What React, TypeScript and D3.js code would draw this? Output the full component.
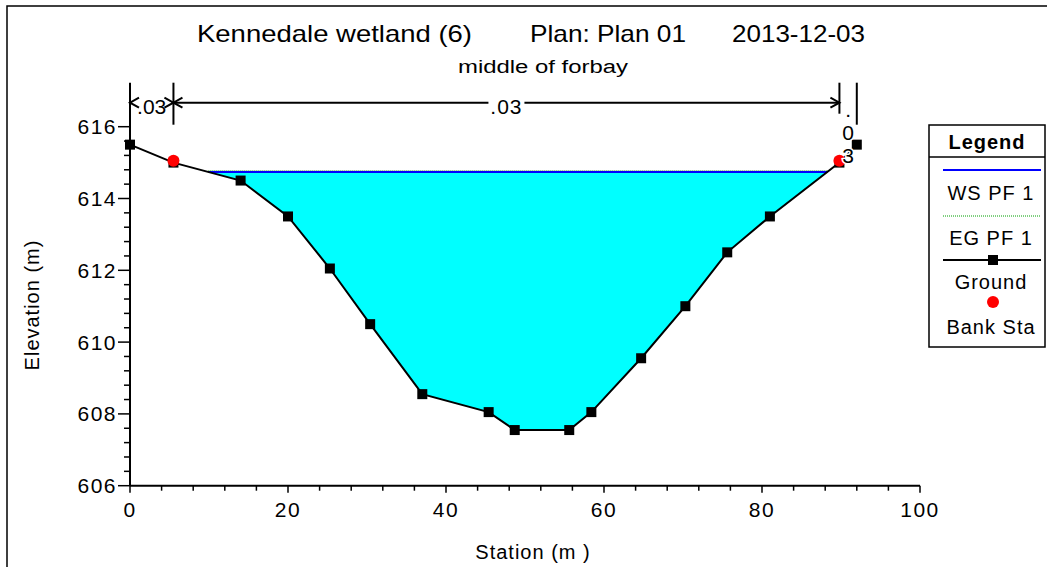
import React from "react";
import * as d3 from "d3";

// cross section data
const stations = [0, 5.5, 14, 20, 25.3, 30.4, 37, 45.4, 48.7, 55.6, 58.4, 64.7, 70.3, 75.6, 81, 89.8, 92];
const elevations = [615.5, 615.0, 614.5, 613.5, 612.05, 610.5, 608.55, 608.05, 607.55, 607.55, 608.05, 609.55, 611.0, 612.5, 613.5, 615.0, 615.5];
const bankStations = [5.5, 89.8];
const bankElevations = [615.05, 615.05];
const wsElevation = 614.74;
const egElevation = 614.77;
const nBreaks = [0, 5.5, 89.8, 92];
const nValues = [".03", ".03", ".03"];
const xTicks = [0, 20, 40, 60, 80, 100];
const yTicks = [606, 608, 610, 612, 614, 616];
const legendItems = ["WS PF 1", "EG PF 1", "Ground", "Bank Sta"];

const font = "'Liberation Sans', Arial, sans-serif";

export default function App() {
  const x = d3.scaleLinear().domain([0, 100]).range([130, 920]);
  const y = d3.scaleLinear().domain([606, 616]).range([485.7, 126.7]);

  const ground = stations.map((s, i) => [s, elevations[i]] as [number, number]);
  const line = d3.line<[number, number]>().x(d => x(d[0])).y(d => y(d[1]));

  // where the water surface meets the ground on each side
  const cross = (a: [number, number], b: [number, number]) => {
    const t = (wsElevation - a[1]) / (b[1] - a[1]);
    return [a[0] + t * (b[0] - a[0]), wsElevation] as [number, number];
  };
  let li = ground.findIndex(d => d[1] < wsElevation);
  let ri = ground.length - 1 - [...ground].reverse().findIndex(d => d[1] < wsElevation);
  const leftPt = cross(ground[li - 1], ground[li]);
  const rightPt = cross(ground[ri], ground[ri + 1]);
  const water = [leftPt, ...ground.slice(li, ri + 1), rightPt];

  const xMinor = d3.range(0, 100.01, 4);
  const yMinor = d3.range(606, 616.01, 0.4);

  const nTop = y(616) - 44;
  const arrowY = y(616) - 24;

  const arrowHead = (px: number, dir: number) =>
    `M${px + dir * 9},${arrowY - 5} L${px},${arrowY} L${px + dir * 9},${arrowY + 5}`;

  return (
    <svg width={1047} height={567} style={{ position: "absolute", left: 0, top: 0 }} fontFamily={font}>
      <rect x={0} y={0} width={1047} height={567} fill="white" />
      <rect x={7} y={6} width={1100} height={600} fill="none" stroke="black" strokeWidth={1.5} />

      {/* titles */}
      <text x={197} y={42} fontSize={24} textLength={275} lengthAdjust="spacingAndGlyphs">Kennedale wetland (6)</text>
      <text x={530} y={42} fontSize={24} textLength={156} lengthAdjust="spacingAndGlyphs">Plan: Plan 01</text>
      <text x={732} y={42} fontSize={24} textLength={133} lengthAdjust="spacingAndGlyphs">2013-12-03</text>
      <text x={458} y={73} fontSize={18} textLength={170} lengthAdjust="spacingAndGlyphs">middle of forbay</text>

      {/* water */}
      <path d={line(water)! + "Z"} fill="#00FFFF" />
      <line x1={x(leftPt[0])} x2={x(rightPt[0])} y1={y(egElevation)} y2={y(egElevation)} stroke="#00A000" strokeWidth={1} strokeDasharray="1,1" />
      <line x1={x(leftPt[0])} x2={x(rightPt[0])} y1={y(wsElevation)} y2={y(wsElevation)} stroke="#0000FF" strokeWidth={2} />

      {/* ground */}
      <path d={line(ground)!} fill="none" stroke="black" strokeWidth={2} />
      {ground.map((d, i) => (
        <rect key={i} x={x(d[0]) - 5} y={y(d[1]) - 5} width={10} height={10} fill="black" />
      ))}
      {bankStations.map((s, i) => (
        <circle key={i} cx={x(s)} cy={y(bankElevations[i])} r={6} fill="#FF0000" />
      ))}

      {/* axes */}
      <line x1={x(0)} x2={x(100)} y1={y(606)} y2={y(606)} stroke="black" strokeWidth={2} />
      <line x1={x(0)} x2={x(0)} y1={y(606)} y2={nTop} stroke="black" strokeWidth={2} />
      {xMinor.map(t => (
        <line key={t} x1={x(t)} x2={x(t)} y1={y(606)} y2={y(606) + (t % 20 === 0 ? 7 : 5)} stroke="black" strokeWidth={1.5} />
      ))}
      {yMinor.map(t => (
        <line key={t} x1={x(0) - (Math.abs(t - Math.round(t)) < 0.01 && Math.round(t) % 2 === 0 ? 12 : 6)} x2={x(0)} y1={y(t)} y2={y(t)} stroke="black" strokeWidth={1.5} />
      ))}
      {xTicks.map(t => (
        <text key={t} x={x(t)} y={y(606) + 31} fontSize={21} textAnchor="middle" letterSpacing={1.5}>{t}</text>
      ))}
      {yTicks.map(t => (
        <text key={t} x={x(0) - 13} y={y(t) + 7.5} fontSize={21} textAnchor="end" letterSpacing={1.5}>{t}</text>
      ))}
      <text x={533} y={559} fontSize={20} textAnchor="middle" letterSpacing={1}>Station (m )</text>
      <text transform={`translate(39,305) rotate(-90)`} fontSize={20} textAnchor="middle" letterSpacing={1}>Elevation (m)</text>

      {/* n value markers */}
      {nBreaks.slice(1).map((s, i) => (
        <line key={i} x1={x(s)} x2={x(s)} y1={nTop} y2={i === 1 ? y(616) - 13 : y(616) - 2} stroke="black" strokeWidth={2} />
      ))}
      {nValues.slice(0, 2).map((v, i) => {
        const a = x(nBreaks[i]);
        const b = x(nBreaks[i + 1]);
        const m = (a + b) / 2;
        const narrow = b - a < 60;
        return (
          <g key={i}>
            {!narrow && <line x1={a} x2={b} y1={arrowY} y2={arrowY} stroke="black" strokeWidth={2} />}
            {!narrow && <rect x={m - 18} y={arrowY - 8} width={36} height={18} fill="white" />}
            <path d={arrowHead(a, 1)} fill="none" stroke="black" strokeWidth={2} />
            <path d={arrowHead(b, -1)} fill="none" stroke="black" strokeWidth={2} />
            <text x={m} y={arrowY + 11} fontSize={21} textAnchor="middle" letterSpacing={narrow ? 0 : 1}>{v}</text>
          </g>
        );
      })}
      {nValues[2].split("").map((c, i) => (
        <text key={i} x={(x(nBreaks[2]) + x(nBreaks[3])) / 2} y={arrowY + 14 + i * 23} fontSize={21} textAnchor="middle"
          stroke="white" strokeWidth={3} paintOrder="stroke">{c}</text>
      ))}

      {/* legend */}
      <rect x={929} y={125} width={116} height={222} fill="white" stroke="black" strokeWidth={1.5} />
      <line x1={929} x2={1045} y1={157} y2={157} stroke="black" strokeWidth={1.5} />
      <text x={987} y={149} fontSize={20} fontWeight="bold" textAnchor="middle" letterSpacing={1}>Legend</text>
      <line x1={943} x2={1041} y1={170} y2={170} stroke="#0000FF" strokeWidth={2} />
      <line x1={943} x2={1041} y1={216} y2={216} stroke="#00A000" strokeWidth={1} strokeDasharray="1,1" />
      <line x1={943} x2={1041} y1={260} y2={260} stroke="black" strokeWidth={2} />
      <rect x={988} y={255} width={10} height={10} fill="black" />
      <circle cx={993} cy={302} r={6} fill="#FF0000" />
      {legendItems.map((t, i) => (
        <text key={t} x={991} y={[200, 245, 289, 334][i]} fontSize={20} textAnchor="middle" letterSpacing={1}>{t}</text>
      ))}
    </svg>
  );
}
